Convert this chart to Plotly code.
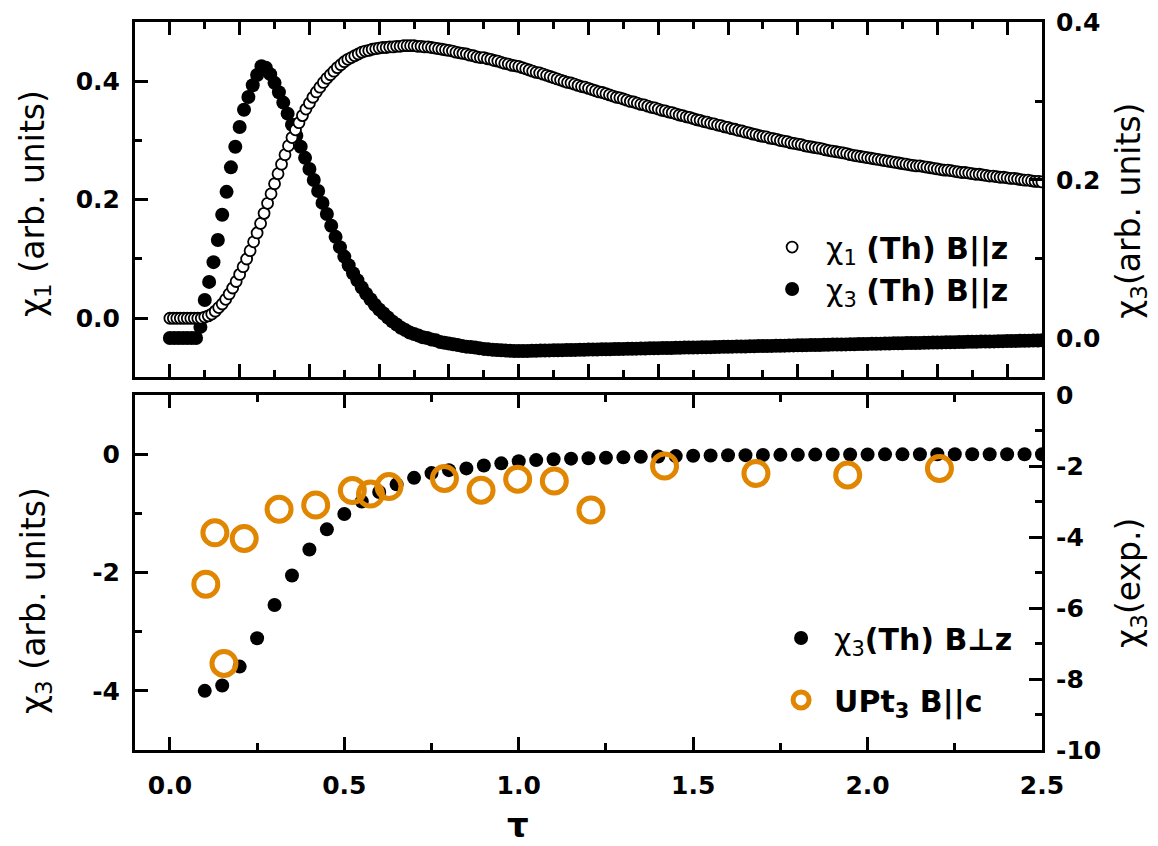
import plotly.graph_objects as go

# ---------------- data ----------------
# top panel, chi1 theory (B || z), left axis
TAU_CHI1 = [
    0.00, 0.01, 0.02, 0.03, 0.04, 0.05, 0.06, 0.07, 0.08, 0.09,
    0.10, 0.11, 0.12, 0.13, 0.14, 0.15, 0.16, 0.17, 0.18, 0.19,
    0.20, 0.21, 0.22, 0.23, 0.24, 0.25, 0.26, 0.27, 0.28, 0.29,
    0.30, 0.31, 0.32, 0.33, 0.34, 0.35, 0.36, 0.37, 0.38, 0.39,
    0.40, 0.41, 0.42, 0.43, 0.44, 0.45, 0.46, 0.47, 0.48, 0.49,
    0.50, 0.51, 0.52, 0.53, 0.54, 0.55, 0.56, 0.57, 0.58, 0.59,
    0.60, 0.61, 0.62, 0.63, 0.64, 0.65, 0.66, 0.67, 0.68, 0.69,
    0.70, 0.71, 0.72, 0.73, 0.74, 0.75, 0.76, 0.77, 0.78, 0.79,
    0.80, 0.81, 0.82, 0.83, 0.84, 0.85, 0.86, 0.87, 0.88, 0.89,
    0.90, 0.91, 0.92, 0.93, 0.94, 0.95, 0.96, 0.97, 0.98, 0.99,
    1.00, 1.01, 1.02, 1.03, 1.04, 1.05, 1.06, 1.07, 1.08, 1.09,
    1.10, 1.11, 1.12, 1.13, 1.14, 1.15, 1.16, 1.17, 1.18, 1.19,
    1.20, 1.21, 1.22, 1.23, 1.24, 1.25, 1.26, 1.27, 1.28, 1.29,
    1.30, 1.31, 1.32, 1.33, 1.34, 1.35, 1.36, 1.37, 1.38, 1.39,
    1.40, 1.41, 1.42, 1.43, 1.44, 1.45, 1.46, 1.47, 1.48, 1.49,
    1.50, 1.51, 1.52, 1.53, 1.54, 1.55, 1.56, 1.57, 1.58, 1.59,
    1.60, 1.61, 1.62, 1.63, 1.64, 1.65, 1.66, 1.67, 1.68, 1.69,
    1.70, 1.71, 1.72, 1.73, 1.74, 1.75, 1.76, 1.77, 1.78, 1.79,
    1.80, 1.81, 1.82, 1.83, 1.84, 1.85, 1.86, 1.87, 1.88, 1.89,
    1.90, 1.91, 1.92, 1.93, 1.94, 1.95, 1.96, 1.97, 1.98, 1.99,
    2.00, 2.01, 2.02, 2.03, 2.04, 2.05, 2.06, 2.07, 2.08, 2.09,
    2.10, 2.11, 2.12, 2.13, 2.14, 2.15, 2.16, 2.17, 2.18, 2.19,
    2.20, 2.21, 2.22, 2.23, 2.24, 2.25, 2.26, 2.27, 2.28, 2.29,
    2.30, 2.31, 2.32, 2.33, 2.34, 2.35, 2.36, 2.37, 2.38, 2.39,
    2.40, 2.41, 2.42, 2.43, 2.44, 2.45, 2.46, 2.47, 2.48, 2.49,
    2.50,
]
CHI1_TH = [
    0.000, 0.000, 0.000, 0.000, 0.000, 0.000, 0.000, 0.000, 0.000, 0.000,
    0.002, 0.004, 0.007, 0.012, 0.018, 0.024, 0.032, 0.041, 0.051, 0.062,
    0.074, 0.087, 0.100, 0.114, 0.129, 0.144, 0.160, 0.177, 0.194, 0.210,
    0.227, 0.244, 0.260, 0.276, 0.291, 0.305, 0.318, 0.330, 0.342, 0.353,
    0.363, 0.373, 0.382, 0.390, 0.398, 0.405, 0.411, 0.417, 0.423, 0.428,
    0.433, 0.437, 0.440, 0.443, 0.446, 0.449, 0.451, 0.452, 0.454, 0.455,
    0.456, 0.457, 0.457, 0.458, 0.458, 0.459, 0.459, 0.460, 0.460, 0.460,
    0.460, 0.459, 0.459, 0.458, 0.458, 0.457, 0.456, 0.455, 0.454, 0.453,
    0.452, 0.451, 0.449, 0.448, 0.447, 0.446, 0.444, 0.443, 0.441, 0.440,
    0.440, 0.438, 0.437, 0.435, 0.434, 0.432, 0.430, 0.429, 0.427, 0.426,
    0.425, 0.423, 0.421, 0.419, 0.417, 0.415, 0.414, 0.412, 0.410, 0.408,
    0.406, 0.404, 0.402, 0.400, 0.398, 0.397, 0.395, 0.393, 0.391, 0.390,
    0.388, 0.386, 0.384, 0.382, 0.381, 0.379, 0.377, 0.375, 0.373, 0.372,
    0.370, 0.368, 0.366, 0.365, 0.363, 0.361, 0.360, 0.358, 0.356, 0.355,
    0.353, 0.351, 0.350, 0.348, 0.347, 0.345, 0.343, 0.342, 0.340, 0.339,
    0.337, 0.335, 0.334, 0.332, 0.331, 0.329, 0.328, 0.326, 0.325, 0.323,
    0.322, 0.320, 0.319, 0.317, 0.316, 0.314, 0.313, 0.311, 0.310, 0.308,
    0.307, 0.306, 0.304, 0.303, 0.302, 0.300, 0.299, 0.298, 0.296, 0.295,
    0.294, 0.293, 0.291, 0.290, 0.289, 0.288, 0.287, 0.286, 0.284, 0.283,
    0.282, 0.281, 0.280, 0.279, 0.278, 0.276, 0.275, 0.274, 0.273, 0.272,
    0.271, 0.270, 0.269, 0.268, 0.267, 0.266, 0.265, 0.264, 0.263, 0.262,
    0.261, 0.260, 0.259, 0.258, 0.257, 0.257, 0.256, 0.255, 0.254, 0.253,
    0.252, 0.251, 0.250, 0.250, 0.249, 0.248, 0.247, 0.246, 0.246, 0.245,
    0.244, 0.243, 0.243, 0.242, 0.241, 0.240, 0.240, 0.239, 0.238, 0.238,
    0.237, 0.236, 0.236, 0.235, 0.234, 0.233, 0.233, 0.232, 0.231, 0.231,
    0.230,
]

# top panel, chi3 theory (B || z), right axis
TAU_CHI3 = [
    0.0, 0.0125, 0.025, 0.0375, 0.05, 0.0625, 0.075, 0.0875,
    0.1, 0.1125, 0.125, 0.1375, 0.15, 0.1625, 0.175, 0.1875,
    0.2, 0.2125, 0.225, 0.2375, 0.25, 0.2625, 0.275, 0.2875,
    0.3, 0.3125, 0.325, 0.3375, 0.35, 0.3625, 0.375, 0.3875,
    0.4, 0.4125, 0.425, 0.4375, 0.45, 0.4625, 0.475, 0.4875,
    0.5, 0.5125, 0.525, 0.5375, 0.55, 0.5625, 0.575, 0.5875,
    0.6, 0.6125, 0.625, 0.6375, 0.65, 0.6625, 0.675, 0.6875,
    0.7, 0.7125, 0.725, 0.7375, 0.75, 0.7625, 0.775, 0.7875,
    0.8, 0.8125, 0.825, 0.8375, 0.85, 0.8625, 0.875, 0.8875,
    0.9, 0.9125, 0.925, 0.9375, 0.95, 0.9625, 0.975, 0.9875,
    1.0, 1.0125, 1.025, 1.0375, 1.05, 1.0625, 1.075, 1.0875,
    1.1, 1.1125, 1.125, 1.1375, 1.15, 1.1625, 1.175, 1.1875,
    1.2, 1.2125, 1.225, 1.2375, 1.25, 1.2625, 1.275, 1.2875,
    1.3, 1.3125, 1.325, 1.3375, 1.35, 1.3625, 1.375, 1.3875,
    1.4, 1.4125, 1.425, 1.4375, 1.45, 1.4625, 1.475, 1.4875,
    1.5, 1.5125, 1.525, 1.5375, 1.55, 1.5625, 1.575, 1.5875,
    1.6, 1.6125, 1.625, 1.6375, 1.65, 1.6625, 1.675, 1.6875,
    1.7, 1.7125, 1.725, 1.7375, 1.75, 1.7625, 1.775, 1.7875,
    1.8, 1.8125, 1.825, 1.8375, 1.85, 1.8625, 1.875, 1.8875,
    1.9, 1.9125, 1.925, 1.9375, 1.95, 1.9625, 1.975, 1.9875,
    2.0, 2.0125, 2.025, 2.0375, 2.05, 2.0625, 2.075, 2.0875,
    2.1, 2.1125, 2.125, 2.1375, 2.15, 2.1625, 2.175, 2.1875,
    2.2, 2.2125, 2.225, 2.2375, 2.25, 2.2625, 2.275, 2.2875,
    2.3, 2.3125, 2.325, 2.3375, 2.35, 2.3625, 2.375, 2.3875,
    2.4, 2.4125, 2.425, 2.4375, 2.45, 2.4625, 2.475, 2.4875,
    2.5,
]
CHI3_TH = [
    0.000, 0.000, 0.000, 0.000, 0.000, 0.000, 0.000, 0.014,
    0.048, 0.071, 0.096, 0.124, 0.156, 0.185, 0.216, 0.242,
    0.267, 0.289, 0.305, 0.320, 0.333, 0.344, 0.342, 0.334,
    0.323, 0.311, 0.298, 0.284, 0.270, 0.256, 0.242, 0.228,
    0.214, 0.200, 0.186, 0.171, 0.157, 0.142, 0.128, 0.115,
    0.103, 0.092, 0.082, 0.073, 0.064, 0.056, 0.049, 0.042,
    0.036, 0.031, 0.026, 0.021, 0.017, 0.013, 0.010, 0.007,
    0.005, 0.003, 0.001, 0.000, -0.002, -0.003, -0.005, -0.006,
    -0.007, -0.008, -0.009, -0.010, -0.011, -0.0115, -0.012, -0.013,
    -0.0138, -0.0143, -0.0148, -0.0152, -0.0156, -0.0160, -0.0163, -0.0165,
    -0.0166, -0.0165, -0.0164, -0.0163, -0.0162, -0.0160, -0.0158, -0.0157,
    -0.0156, -0.0155, -0.0154, -0.0153, -0.0152, -0.0151, -0.0149, -0.0148,
    -0.0147, -0.0146, -0.0145, -0.0144, -0.0143, -0.0142, -0.0140, -0.0139,
    -0.0138, -0.0137, -0.0136, -0.0135, -0.0134, -0.0133, -0.0131, -0.0130,
    -0.0129, -0.0128, -0.0127, -0.0126, -0.0125, -0.0124, -0.0122, -0.0121,
    -0.0120, -0.0119, -0.0118, -0.0117, -0.0116, -0.0115, -0.0113, -0.0112,
    -0.0111, -0.0110, -0.0109, -0.0108, -0.0107, -0.0106, -0.0104, -0.0103,
    -0.0102, -0.0101, -0.0100, -0.0099, -0.0098, -0.0097, -0.0095, -0.0094,
    -0.0093, -0.0092, -0.0091, -0.0090, -0.0089, -0.0088, -0.0086, -0.0085,
    -0.0084, -0.0083, -0.0082, -0.0081, -0.0080, -0.0079, -0.0077, -0.0076,
    -0.0075, -0.0074, -0.0073, -0.0072, -0.0071, -0.0070, -0.0068, -0.0067,
    -0.0066, -0.0065, -0.0064, -0.0063, -0.0062, -0.0061, -0.0059, -0.0058,
    -0.0057, -0.0056, -0.0055, -0.0054, -0.0053, -0.0052, -0.0050, -0.0049,
    -0.0048, -0.0047, -0.0046, -0.0045, -0.0044, -0.0043, -0.0041, -0.0040,
    -0.0039, -0.0038, -0.0037, -0.0036, -0.0035, -0.0034, -0.0032, -0.0031,
    -0.0030,
]

# bottom panel: theory chi3 for B perp z (left axis)
TAU_PERP = [
    0.10, 0.15, 0.20, 0.25, 0.30, 0.35, 0.40, 0.45, 0.50, 0.55,
    0.60, 0.65, 0.70, 0.75, 0.80, 0.85, 0.90, 0.95, 1.00, 1.05,
    1.10, 1.15, 1.20, 1.25, 1.30, 1.35, 1.40, 1.45, 1.50, 1.55,
    1.60, 1.65, 1.70, 1.75, 1.80, 1.85, 1.90, 1.95, 2.00, 2.05,
    2.10, 2.15, 2.20, 2.25, 2.30, 2.35, 2.40, 2.45, 2.50,
]
CHI3_PERP = [
    -4.00, -3.91, -3.59, -3.11, -2.55, -2.05, -1.61, -1.27, -1.01, -0.80,
    -0.64, -0.51, -0.40, -0.32, -0.27, -0.24, -0.19, -0.155, -0.12, -0.10,
    -0.085, -0.075, -0.068, -0.060, -0.053, -0.045, -0.038, -0.032, -0.027, -0.023,
    -0.019, -0.016, -0.013, -0.011, -0.009, -0.007, -0.006, -0.005, -0.004, -0.003,
    -0.003, -0.002, -0.002, -0.001, -0.001, -0.001, 0.000, 0.000, 0.000,
]

# bottom panel: UPt3 experiment (right axis)
TAU_UPT3 = [0.103, 0.129, 0.155, 0.213, 0.313, 0.418, 0.523, 0.575, 0.628,
            0.787, 0.892, 0.997, 1.102, 1.207, 1.418, 1.680, 1.943, 2.206]
CHI3_UPT3 = [-5.33, -3.88, -7.56, -4.04, -3.22, -3.10, -2.69, -2.79, -2.58,
             -2.35, -2.68, -2.37, -2.42, -3.24, -2.00, -2.21, -2.25, -2.07]

# tick labels
X_TICKVALS = [0.0, 0.5, 1.0, 1.5, 2.0, 2.5]
X_TICKTEXT = ["0.0", "0.5", "1.0", "1.5", "2.0", "2.5"]
TOP_TICKVALS = [0.0, 0.2, 0.4]
TOP_TICKTEXT = ["0.0", "0.2", "0.4"]
BL_TICKVALS = [-4, -2, 0]
BL_TICKTEXT = ["-4", "-2", "0"]
BR_TICKVALS = [-10, -8, -6, -4, -2, 0]
BR_TICKTEXT = ["-10", "-8", "-6", "-4", "-2", "0"]

# ---------------- figure ----------------
ORANGE = "#E08600"
TICKFONT = dict(family="DejaVu Sans", size=25, color="black", weight="bold")
LW = 3

def minor(dt):
    return dict(ticks="inside", ticklen=7, tickwidth=2.5, tickcolor="black",
                tickmode="linear", tick0=0, dtick=dt)

common = dict(showline=True, linecolor="black", linewidth=LW, ticks="inside",
              ticklen=13, tickwidth=2.5, tickcolor="black", showgrid=False,
              zeroline=False, tickfont=TICKFONT, automargin=False,
              ticklabeloverflow="allow")

fig = go.Figure()

# top panel
fig.add_trace(go.Scatter(
    x=TAU_CHI3, y=CHI3_TH, xaxis="x", yaxis="y", mode="markers",
    marker=dict(symbol="circle", size=14, color="black", line=dict(width=0)),
    name="χ<sub>3</sub> <b>(Th) B||z</b>", legend="legend", legendrank=2,
))
fig.add_trace(go.Scatter(
    x=TAU_CHI1, y=CHI1_TH, xaxis="x", yaxis="y2", mode="markers",
    marker=dict(symbol="circle", size=11, color="white",
                line=dict(color="black", width=1.8)),
    name="χ<sub>1</sub> <b>(Th) B||z</b>", legend="legend", legendrank=1,
))

# bottom panel
fig.add_trace(go.Scatter(
    x=TAU_PERP, y=CHI3_PERP, xaxis="x2", yaxis="y3", mode="markers",
    marker=dict(symbol="circle", size=14, color="black", line=dict(width=0)),
    name="χ<sub>3</sub><b>(Th) B⊥z</b>", legend="legend2", legendgroup="a",
))
fig.add_trace(go.Scatter(
    x=TAU_UPT3, y=CHI3_UPT3, xaxis="x2", yaxis="y4", mode="markers",
    marker=dict(symbol="circle-open", size=24, color=ORANGE,
                line=dict(color=ORANGE, width=5)),
    name="<b>UPt<sub>3</sub> B||c</b>", legend="legend2", legendgroup="b",
))

TOP_BOTTOM = 0.5117
BOT_TOP = 0.4876

fig.update_layout(
    width=1150, height=838,
    margin=dict(l=127, r=116, t=14, b=96, autoexpand=False),
    paper_bgcolor="white", plot_bgcolor="white",
    font=dict(family="DejaVu Sans", color="black"),
    xaxis=dict(common, domain=[0, 1], anchor="y", range=[-0.1, 2.5],
               mirror="ticks", showticklabels=False,
               tickmode="linear", tick0=0, dtick=0.2, minor=minor(0.1)),
    yaxis=dict(common, domain=[TOP_BOTTOM, 1], anchor="x", side="right",
               range=[-0.05, 0.4], tickmode="array", tickvals=TOP_TICKVALS,
               ticktext=TOP_TICKTEXT, minor=minor(0.1), ticklabelstandoff=6),
    yaxis2=dict(common, overlaying="y", anchor="x", side="left",
                range=[-0.1, 0.5], tickmode="array", tickvals=TOP_TICKVALS,
                ticktext=TOP_TICKTEXT, minor=minor(0.1), ticklabelstandoff=7),
    xaxis2=dict(common, domain=[0, 1], anchor="y3", range=[-0.1, 2.5],
                mirror="ticks", tickmode="array", tickvals=X_TICKVALS,
                ticktext=X_TICKTEXT, minor=minor(0.25), ticklabelstandoff=11),
    yaxis3=dict(common, domain=[0, BOT_TOP], anchor="x2", side="left",
                range=[-5, 1], tickmode="array", tickvals=BL_TICKVALS,
                ticktext=BL_TICKTEXT, minor=minor(1), ticklabelstandoff=7),
    yaxis4=dict(common, overlaying="y3", anchor="x2", side="right",
                range=[-10, 0], tickmode="array", tickvals=BR_TICKVALS,
                ticktext=BR_TICKTEXT, minor=minor(1), ticklabelstandoff=6),
    legend=dict(x=0.687, y=0.7266, xanchor="left", yanchor="top",
                bgcolor="rgba(0,0,0,0)", borderwidth=0,
                font=dict(family="DejaVu Sans", size=30, color="black"),
                itemwidth=58, tracegroupgap=0),
    legend2=dict(x=0.698, y=0.1896, xanchor="left", yanchor="top",
                 bgcolor="rgba(0,0,0,0)", borderwidth=0,
                 font=dict(family="DejaVu Sans", size=30, color="black"),
                 itemwidth=56, tracegroupgap=20),
    showlegend=True,
)

TITLE_FONT = dict(family="DejaVu Sans", size=33, color="black")
annos = [
    dict(x=-0.1103, y=0.7514, text="χ<sub>1</sub> (arb. units)", textangle=-90),
    dict(x=-0.1103, y=0.206, text="χ<sub>3</sub> (arb. units)", textangle=-90),
    dict(x=1.098, y=0.7404, text="χ<sub>3</sub>(arb. units)", textangle=-90),
    dict(x=1.098, y=0.2294, text="χ<sub>3</sub>(exp.)", textangle=-90),
]
for a in annos:
    fig.add_annotation(xref="paper", yref="paper", showarrow=False,
                       xanchor="center", yanchor="middle", font=TITLE_FONT, **a)
fig.add_annotation(xref="paper", yref="paper", x=0.4223, y=-0.103,
                   text="<b>τ</b>", showarrow=False, xanchor="center",
                   yanchor="middle",
                   font=dict(family="DejaVu Sans", size=34, color="black"))

fig.write_html("out.html")
